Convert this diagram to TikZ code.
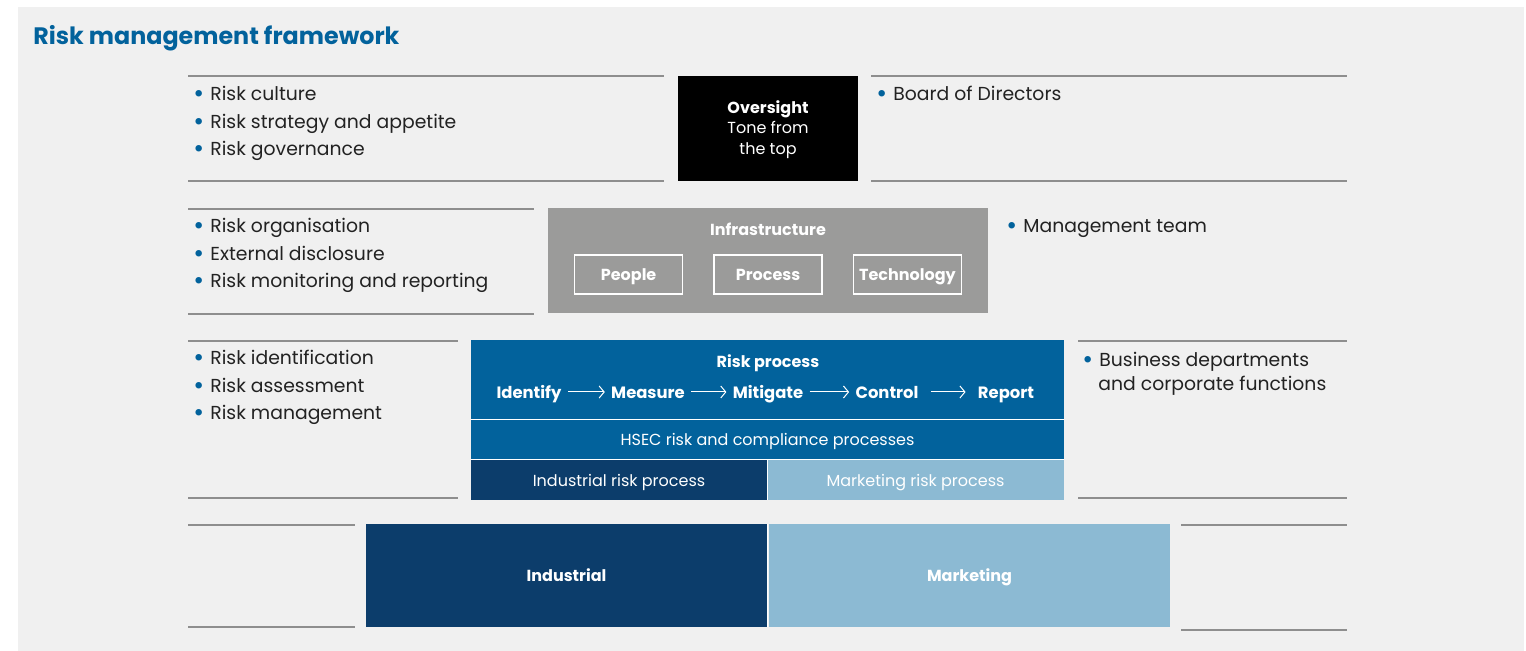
\documentclass[tikz,border=0pt]{standalone}
\usepackage{fontspec}
\setmainfont{Poppins}
\usetikzlibrary{positioning,arrows.meta}
\definecolor{rmblue}{HTML}{02629C}
\definecolor{rmnavy}{HTML}{0C3D6B}
\definecolor{rmlight}{HTML}{8CBAD3}
\definecolor{rmgrey}{HTML}{9B9B9A}
\definecolor{rmpaper}{HTML}{F0F0F0}
\definecolor{rmrule}{HTML}{8E8E8E}
\definecolor{rmtext}{HTML}{222222}
\newcommand{\rmbul}{\makebox[8.5pt][l]{\textcolor{rmblue}{\raisebox{-0.9pt}{\scalebox{1.4}{\textbullet}}}}}
\tikzset{
    every node/.style={font=\fontsize{9.4}{11}\selectfont},
    rule/.style={draw=rmrule,line width=0.7pt},
    item/.style={anchor=base west,inner sep=0pt,text=rmtext},
    block/.style={inner sep=0pt,text=white,align=center,font=\fontsize{8}{10.3}\selectfont},
    oneline/.style={text height=7.5pt,text depth=1pt},
    subbox/.style={oneline,draw=white,line width=0.7pt,minimum width=54pt,minimum height=19.5pt,inner sep=0pt,text=white,font=\bfseries\fontsize{8}{10}\selectfont},
    stepnode/.style={oneline,inner sep=3pt,text=white,font=\bfseries\fontsize{8.2}{10}\selectfont},
    flow/.style={draw=white,line width=0.5pt,-{Straight Barb[length=2.5pt,width=6pt]}},
    sep/.style={draw=white,line width=0.6pt}
}
\begin{document}
\begin{tikzpicture}[x=0.5pt,y=-0.5pt]
    \useasboundingbox (0,0) rectangle (1526,651);
    \fill[rmpaper] (18,7) rectangle (1524,651);
    \node[anchor=base west,inner sep=0pt,text=rmblue,font=\bfseries\fontsize{11.9}{13}\selectfont] (title) at (33,45) {Risk management framework};

    % oversight row
    \draw[rule] (188,76) -- (664,76);
    \draw[rule] (188,181) -- (664,181);
    \draw[rule] (871,76) -- (1347,76);
    \draw[rule] (871,181) -- (1347,181);
    \node[block,fill=black,minimum width=90pt,minimum height=52.5pt] (oversight) at (768,128.5) {};
    \node[block] (oversighttext) at (768,129.5) {\textbf{Oversight}\\Tone from\\the top};
    \node[item] (culture) at (193,101) {\rmbul Risk culture};
    \node[item] (strategy) at (193,129) {\rmbul Risk strategy and appetite};
    \node[item] (governance) at (193,156) {\rmbul Risk governance};
    \node[item] (board) at (876,101) {\rmbul Board of Directors};

    % infrastructure row
    \draw[rule] (188,209) -- (534,209);
    \draw[rule] (188,314) -- (534,314);
    \node[block,fill=rmgrey,minimum width=220pt,minimum height=52.5pt] (infra) at (768,260.5) {};
    \node[block,oneline,font=\bfseries\fontsize{8}{10}\selectfont] (infratitle) at (768,229) {Infrastructure};
    \node[subbox] (process) at (768,274.5) {Process};
    \node[subbox,left=15pt of process] (people) {People};
    \node[subbox,right=15pt of process] (technology) {Technology};
    \node[item] (organisation) at (193,233) {\rmbul Risk organisation};
    \node[item] (disclosure) at (193,261) {\rmbul External disclosure};
    \node[item] (monitoring) at (193,288) {\rmbul Risk monitoring and reporting};
    \node[item] (mgmtteam) at (1006,233) {\rmbul Management team};

    % risk process row
    \draw[rule] (188,341) -- (458,341);
    \draw[rule] (188,498) -- (458,498);
    \draw[rule] (1078,341) -- (1347,341);
    \draw[rule] (1078,498) -- (1347,498);
    \node[block,fill=rmblue,minimum width=296.5pt,minimum height=39.5pt] (riskproc) at (767.5,379.5) {};
    \node[block,oneline,font=\bfseries\fontsize{8}{10}\selectfont] (risktitle) at (768,361) {Risk process};
    \node[stepnode] (identify) at (529,392) {Identify};
    \node[stepnode] (measure) at (648,392) {Measure};
    \node[stepnode] (mitigate) at (768,392) {Mitigate};
    \node[stepnode] (control) at (887,392) {Control};
    \node[stepnode] (report) at (1006,392) {Report};
    \draw[flow] (identify) -- (measure);
    \draw[flow] (measure) -- (mitigate);
    \draw[flow] (mitigate) -- (control);
    \draw[flow,shorten <=3pt,shorten >=3pt] (control) -- (report);
    \node[block,oneline,fill=rmblue,minimum width=296.5pt,minimum height=19.5pt,below=0pt of riskproc] (hsec) {HSEC risk and compliance processes};
    \node[block,oneline,fill=rmnavy,minimum width=148pt,minimum height=20pt,anchor=north west] (indrisk) at (hsec.south west) {Industrial risk process};
    \node[block,oneline,fill=rmlight,minimum width=148.5pt,minimum height=20pt,anchor=north east] (mktrisk) at (hsec.south east) {Marketing risk process};
    \draw[sep] (riskproc.south west) -- (riskproc.south east);
    \draw[sep] (hsec.south west) -- (hsec.south east);
    \draw[sep] (indrisk.north east) -- (indrisk.south east);
    \node[item] (identification) at (193,365) {\rmbul Risk identification};
    \node[item] (assessment) at (193,393) {\rmbul Risk assessment};
    \node[item] (riskmgmt) at (193,420) {\rmbul Risk management};
    \node[item] (bizdept) at (1082,367) {\rmbul Business departments};
    \node[item] (corpfunc) at (1098,391) {and corporate functions};

    % business row
    \draw[rule] (188,525) -- (355,525);
    \draw[rule] (188,627) -- (355,627);
    \draw[rule] (1181,525) -- (1347,525);
    \draw[rule] (1181,630) -- (1347,630);
    \node[block,oneline,fill=rmnavy,minimum width=200.5pt,minimum height=51.5pt,font=\bfseries\fontsize{8}{10}\selectfont] (industrial) at (566.5,575.5) {Industrial};
    \node[block,oneline,fill=rmlight,minimum width=200.5pt,minimum height=51.5pt,font=\bfseries\fontsize{8}{10}\selectfont] (marketing) at (969.5,575.5) {Marketing};
    \draw[sep] (industrial.north east) -- (industrial.south east);
\end{tikzpicture}
\end{document}
